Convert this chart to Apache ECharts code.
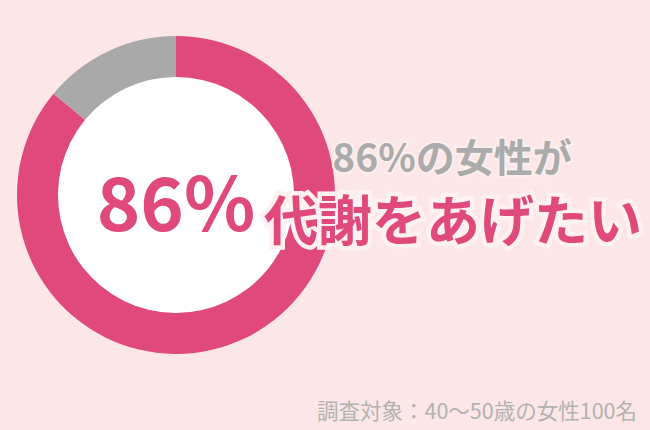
<!DOCTYPE html>
<html><head><meta charset="utf-8">
<script src="https://cdn.jsdelivr.net/npm/echarts@6/dist/echarts.min.js"></script>
<style>html,body{margin:0;padding:0;background:#fde6e7;}#c{width:650px;height:430px;}</style>
</head><body><div id="c"></div>
<script>
const categories = ['代謝をあげたい', 'その他'];
const values = [86, 14];
const colors = ['#e0497c', '#a9a9a9'];
const centerLabel = '86%';
const headline1 = '86%の女性が';
const headline2 = '代謝をあげたい';
const note = '調査対象：40〜50歳の女性100名';

const chart = echarts.init(document.getElementById('c'), null, {renderer: 'svg'});
const font = '"Noto Sans CJK JP", "Noto Sans", sans-serif';
chart.setOption({
  backgroundColor: '#fde6e7',
  animation: false,
  series: [
    {
      type: 'pie', center: [176, 195], radius: [0, 119], silent: true, z: 1,
      label: {show: false}, labelLine: {show: false},
      data: [{value: 1, itemStyle: {color: '#ffffff'}}]
    },
    {
      type: 'pie', center: [176, 195], radius: [118, 159], startAngle: 90, clockwise: true, z: 2,
      label: {show: false}, labelLine: {show: false},
      itemStyle: {borderWidth: 0},
      data: categories.map((n, i) => ({name: n, value: values[i], itemStyle: {color: colors[i]}}))
    }
  ],
  graphic: [
    {type: 'text', z: 100, x: 176, y: 198, style: {text: centerLabel, fill: '#e0497c', font: 'bold 74px ' + font, textAlign: 'center', textVerticalAlign: 'middle'}},
    {type: 'text', z: 100, x: 452, y: 155, style: {text: headline1, fill: '#ababab', font: 'bold 39px ' + font, textAlign: 'center', textVerticalAlign: 'middle', stroke: '#fdeeee', lineWidth: 4}},
    {type: 'text', z: 101, x: 453, y: 217, style: {text: headline2, fill: '#e0497c', font: 'bold 54px ' + font, textAlign: 'center', textVerticalAlign: 'middle', stroke: '#fff0f1', lineWidth: 9}},
    {type: 'text', z: 100, x: 637, y: 409, style: {text: note, fill: '#b2b2b2', font: '21.5px ' + font, textAlign: 'right', textVerticalAlign: 'middle'}}
  ]
});
</script></body></html>
